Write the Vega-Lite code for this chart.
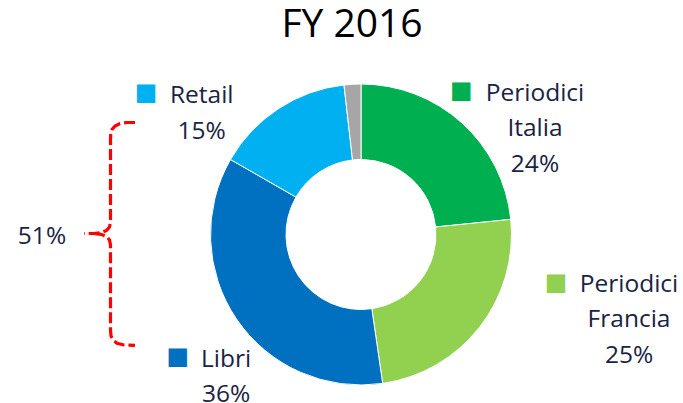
{
  "$schema": "https://vega.github.io/schema/vega-lite/v6.json",
  "width": 644,
  "height": 337,
  "padding": {"left": 39, "top": 66, "right": 0, "bottom": 0},
  "autosize": {"type": "none"},
  "background": "white",
  "title": {"text": "FY 2016", "font": "Open Sans", "fontSize": 39, "fontWeight": "normal", "color": "#000000", "anchor": "middle", "baseline": "alphabetic", "offset": -46.5, "dx": -9},
  "datasets": {
    "shares": [
      {"name": "Periodici Italia", "value": 23.4, "label": "Periodici\nItalia\n24%", "ord": 1},
      {"name": "Periodici Francia", "value": 24.3, "label": "Periodici\nFrancia\n25%", "ord": 2},
      {"name": "Libri", "value": 35.6, "label": "Libri\n36%", "ord": 3},
      {"name": "Retail", "value": 14.9, "label": "Retail\n15%", "ord": 4},
      {"name": "Altro", "value": 1.8, "label": "", "ord": 5}
    ],
    "brace": [
      {"part": "upper", "i": 1, "x": 135, "y": 122.5},
      {"part": "upper", "i": 2, "x": 127, "y": 122.5},
      {"part": "upper", "i": 3, "x": 120, "y": 123.5},
      {"part": "upper", "i": 4, "x": 115, "y": 126},
      {"part": "upper", "i": 5, "x": 112, "y": 129.5},
      {"part": "upper", "i": 6, "x": 110.7, "y": 134},
      {"part": "upper", "i": 7, "x": 110.5, "y": 140},
      {"part": "upper", "i": 8, "x": 110.5, "y": 222},
      {"part": "upper", "i": 9, "x": 109.5, "y": 227},
      {"part": "upper", "i": 10, "x": 106.5, "y": 230.5},
      {"part": "upper", "i": 11, "x": 101, "y": 232.8},
      {"part": "upper", "i": 12, "x": 94, "y": 233.5},
      {"part": "upper", "i": 13, "x": 84, "y": 233.5},
      {"part": "lower", "i": 1, "x": 94, "y": 233.5},
      {"part": "lower", "i": 2, "x": 101, "y": 234.3},
      {"part": "lower", "i": 3, "x": 106.5, "y": 236.5},
      {"part": "lower", "i": 4, "x": 109.5, "y": 240},
      {"part": "lower", "i": 5, "x": 110.5, "y": 245},
      {"part": "lower", "i": 6, "x": 110.5, "y": 330},
      {"part": "lower", "i": 7, "x": 111, "y": 336},
      {"part": "lower", "i": 8, "x": 113, "y": 340},
      {"part": "lower", "i": 9, "x": 117, "y": 343.3},
      {"part": "lower", "i": 10, "x": 124, "y": 345},
      {"part": "lower", "i": 11, "x": 135, "y": 345.3}
    ],
    "note": [
      {"x": 42, "y": 244, "label": "51%"}
    ]
  },
  "layer": [
    {
      "data": {"name": "shares"},
      "mark": {"type": "arc", "innerRadius": 75, "outerRadius": 150.5, "stroke": "white", "strokeWidth": 1},
      "encoding": {
        "theta": {"field": "value", "type": "quantitative", "stack": true},
        "order": {"field": "ord", "type": "quantitative"},
        "color": {"field": "name", "type": "nominal", "legend": null,
          "scale": {"domain": ["Periodici Italia", "Periodici Francia", "Libri", "Retail", "Altro"],
                    "range": ["#00B050", "#92D050", "#0070C0", "#00B0F0", "#A6A6A6"]}}
      }
    },
    {
      "data": {"name": "shares"},
      "mark": {"type": "text", "radius": 150, "dx": 73.4, "dy": -22.5, "align": "center", "baseline": "alphabetic", "lineBreak": "\n", "lineHeight": 35.5, "font": "Open Sans", "fontSize": 24.5, "color": "#1A2342"},
      "encoding": {
        "theta": {"field": "value", "type": "quantitative", "stack": true},
        "order": {"field": "ord", "type": "quantitative"},
        "detail": {"field": "name", "type": "nominal"},
        "text": {"condition": {"test": "datum.name === 'Periodici Italia'", "field": "label"}, "value": ""}
      }
    },
    {
      "data": {"name": "shares"},
      "mark": {"type": "text", "radius": 150, "dx": 149.8, "dy": -35.1, "align": "center", "baseline": "alphabetic", "lineBreak": "\n", "lineHeight": 35.5, "font": "Open Sans", "fontSize": 24.5, "color": "#1A2342"},
      "encoding": {
        "theta": {"field": "value", "type": "quantitative", "stack": true},
        "order": {"field": "ord", "type": "quantitative"},
        "detail": {"field": "name", "type": "nominal"},
        "text": {"condition": {"test": "datum.name === 'Periodici Francia'", "field": "label"}, "value": ""}
      }
    },
    {
      "data": {"name": "shares"},
      "mark": {"type": "text", "radius": 150, "dx": -10.9, "dy": 47.9, "align": "center", "baseline": "alphabetic", "lineBreak": "\n", "lineHeight": 35.5, "font": "Open Sans", "fontSize": 24.5, "color": "#1A2342"},
      "encoding": {
        "theta": {"field": "value", "type": "quantitative", "stack": true},
        "order": {"field": "ord", "type": "quantitative"},
        "detail": {"field": "name", "type": "nominal"},
        "text": {"condition": {"test": "datum.name === 'Libri'", "field": "label"}, "value": ""}
      }
    },
    {
      "data": {"name": "shares"},
      "mark": {"type": "text", "radius": 150, "dx": -76.9, "dy": -5.8, "align": "center", "baseline": "alphabetic", "lineBreak": "\n", "lineHeight": 35.5, "font": "Open Sans", "fontSize": 24.5, "color": "#1A2342"},
      "encoding": {
        "theta": {"field": "value", "type": "quantitative", "stack": true},
        "order": {"field": "ord", "type": "quantitative"},
        "detail": {"field": "name", "type": "nominal"},
        "text": {"condition": {"test": "datum.name === 'Retail'", "field": "label"}, "value": ""}
      }
    },
    {
      "data": {"name": "shares"},
      "mark": {"type": "text", "radius": 150, "dx": -0.3, "dy": -32, "align": "center", "baseline": "middle", "font": "DejaVu Sans", "fontSize": 24},
      "encoding": {
        "theta": {"field": "value", "type": "quantitative", "stack": true},
        "order": {"field": "ord", "type": "quantitative"},
        "color": {"field": "name", "type": "nominal", "legend": null},
        "text": {"condition": {"test": "datum.name === 'Periodici Italia'", "value": "■"}, "value": ""}
      }
    },
    {
      "data": {"name": "shares"},
      "mark": {"type": "text", "radius": 150, "dx": 76.8, "dy": -43.5, "align": "center", "baseline": "middle", "font": "DejaVu Sans", "fontSize": 24},
      "encoding": {
        "theta": {"field": "value", "type": "quantitative", "stack": true},
        "order": {"field": "ord", "type": "quantitative"},
        "color": {"field": "name", "type": "nominal", "legend": null},
        "text": {"condition": {"test": "datum.name === 'Periodici Francia'", "value": "■"}, "value": ""}
      }
    },
    {
      "data": {"name": "shares"},
      "mark": {"type": "text", "radius": 150, "dx": -59, "dy": 38, "align": "center", "baseline": "middle", "font": "DejaVu Sans", "fontSize": 24},
      "encoding": {
        "theta": {"field": "value", "type": "quantitative", "stack": true},
        "order": {"field": "ord", "type": "quantitative"},
        "color": {"field": "name", "type": "nominal", "legend": null},
        "text": {"condition": {"test": "datum.name === 'Libri'", "value": "■"}, "value": ""}
      }
    },
    {
      "data": {"name": "shares"},
      "mark": {"type": "text", "radius": 150, "dx": -132.6, "dy": -16.2, "align": "center", "baseline": "middle", "font": "DejaVu Sans", "fontSize": 24},
      "encoding": {
        "theta": {"field": "value", "type": "quantitative", "stack": true},
        "order": {"field": "ord", "type": "quantitative"},
        "color": {"field": "name", "type": "nominal", "legend": null},
        "text": {"condition": {"test": "datum.name === 'Retail'", "value": "■"}, "value": ""}
      }
    },
    {
      "data": {"name": "brace"},
      "mark": {"type": "line", "color": "#FF0000", "strokeWidth": 3.2, "strokeDash": [11, 4], "strokeCap": "butt"},
      "encoding": {
        "x": {"field": "x", "type": "quantitative", "axis": null, "scale": {"domain": [39, 683], "nice": false, "zero": false}},
        "y": {"field": "y", "type": "quantitative", "axis": null, "scale": {"domain": [66, 403], "nice": false, "zero": false, "reverse": true}},
        "detail": {"field": "part", "type": "nominal"},
        "order": {"field": "i", "type": "quantitative"}
      }
    },
    {
      "data": {"name": "note"},
      "mark": {"type": "text", "align": "center", "baseline": "alphabetic", "font": "Open Sans", "fontSize": 24.5, "color": "#1A2342"},
      "encoding": {
        "x": {"field": "x", "type": "quantitative"},
        "y": {"field": "y", "type": "quantitative"},
        "text": {"field": "label", "type": "nominal"}
      }
    }
  ],
  "config": {"view": {"stroke": null}}
}
